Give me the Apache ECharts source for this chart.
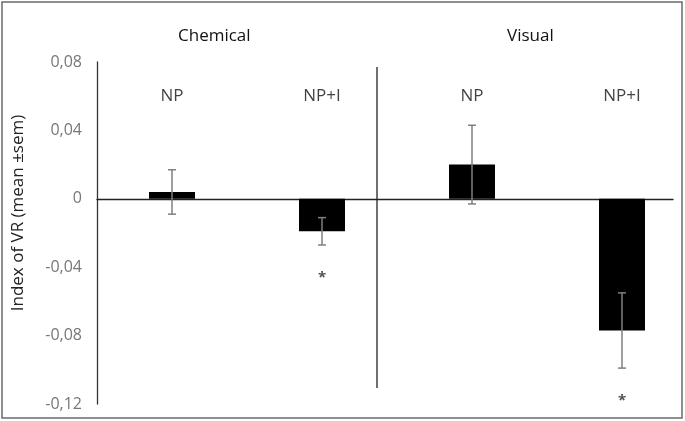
<!DOCTYPE html>
<html>
<head>
<meta charset="utf-8">
<script src="https://cdn.jsdelivr.net/npm/echarts@6/dist/echarts.min.js"></script>
<style>
  html, body { margin: 0; padding: 0; background: #fff; }
  #chart { width: 685px; height: 421px; }
</style>
</head>
<body>
<div id="chart"></div>
<script>
    // data
    var categories = ['NP', 'NP+I', 'NP', 'NP+I'];
    var groups = ['Chemical', 'Visual'];
    var means = [0.004, -0.019, 0.020, -0.077];
    var sems = [0.013, 0.008, 0.023, 0.022];
    var marks = ['', '*', '', '*'];

    initChart();

    function fmtTick(v) {
        if (Math.abs(v) < 1e-9) return '0';
        return v.toFixed(2).replace('.', ',');
    }

    function initChart() {
        var chartDom = document.getElementById('chart');
        var myChart = echarts.init(chartDom);
        var font = '"Open Sans", sans-serif';

        var barData = means.map(function (m, i) { return [i + 0.5, m]; });
        var errData = means.map(function (m, i) { return [i + 0.5, m - sems[i], m + sems[i]]; });
        var nameData = categories.map(function (c, i) { return { value: [i + 0.5, 0.06], name: c }; });
        var starData = [];
        marks.forEach(function (s, i) {
            if (s) starData.push({ value: [i + 0.5, means[i] - sems[i] - 0.019], name: s });
        });

        var option = {
            animation: false,
            textStyle: { fontFamily: font },
            grid: { left: 97, right: 12, top: 62, bottom: 17 },
            xAxis: {
                type: 'value',
                min: 0,
                max: 3.84,
                axisLabel: { show: false },
                axisTick: { show: false },
                splitLine: { show: false },
                axisLine: { show: true, onZero: true, lineStyle: { color: '#222', width: 1.3 } }
            },
            yAxis: {
                type: 'value',
                min: -0.12,
                max: 0.08,
                interval: 0.04,
                splitLine: { show: false },
                axisTick: { show: false },
                axisLine: { show: true, lineStyle: { color: '#333', width: 1.3 } },
                axisLabel: {
                    formatter: fmtTick,
                    color: '#777',
                    fontSize: 16,
                    margin: 15,
                    fontFamily: font
                }
            },
            graphic: [
                {
                    type: 'rect', z: 100, silent: true,
                    shape: { x: 2, y: 2, width: 680, height: 416 },
                    style: { fill: 'none', stroke: '#6b6b6b', lineWidth: 1.5 }
                },
                {
                    type: 'line', z: 50, silent: true,
                    shape: { x1: 377, y1: 67, x2: 377, y2: 388 },
                    style: { stroke: '#222', lineWidth: 1.3 }
                },
                {
                    type: 'text', left: 178, top: 28,
                    style: { text: groups[0], font: '17px ' + font, fill: '#111' }
                },
                {
                    type: 'text', left: 507, top: 28,
                    style: { text: groups[1], font: '17px ' + font, fill: '#111' }
                },
                {
                    type: 'text', x: 18, y: 213, rotation: Math.PI / 2,
                    style: {
                        text: 'Index of VR (mean ±sem)', font: '17px ' + font, fill: '#222',
                        align: 'center', verticalAlign: 'middle'
                    }
                }
            ],
            series: [
                {
                    type: 'bar',
                    data: barData,
                    barWidth: 46,
                    itemStyle: { color: '#000' }
                },
                {
                    type: 'custom',
                    data: errData,
                    z: 10,
                    renderItem: function (params, api) {
                        var x = api.value(0);
                        var lo = api.coord([x, api.value(1)]);
                        var hi = api.coord([x, api.value(2)]);
                        var cap = 4;
                        var st = { stroke: '#7f7f7f', lineWidth: 1.5 };
                        return {
                            type: 'group',
                            children: [
                                { type: 'line', shape: { x1: lo[0], y1: lo[1], x2: hi[0], y2: hi[1] }, style: st },
                                { type: 'line', shape: { x1: lo[0] - cap, y1: lo[1], x2: lo[0] + cap, y2: lo[1] }, style: st },
                                { type: 'line', shape: { x1: hi[0] - cap, y1: hi[1], x2: hi[0] + cap, y2: hi[1] }, style: st }
                            ]
                        };
                    }
                },
                {
                    type: 'scatter',
                    data: nameData,
                    symbolSize: 0,
                    label: {
                        show: true, position: 'inside', formatter: '{b}',
                        color: '#111', fontSize: 17, fontFamily: font
                    }
                },
                {
                    type: 'scatter',
                    data: starData,
                    symbolSize: 0,
                    label: {
                        show: true, position: 'inside', formatter: '{b}',
                        color: '#222', fontSize: 15, fontWeight: 'bold', fontFamily: font
                    }
                }
            ]
        };

        option && myChart.setOption(option);
    }
</script>
</body>
</html>
